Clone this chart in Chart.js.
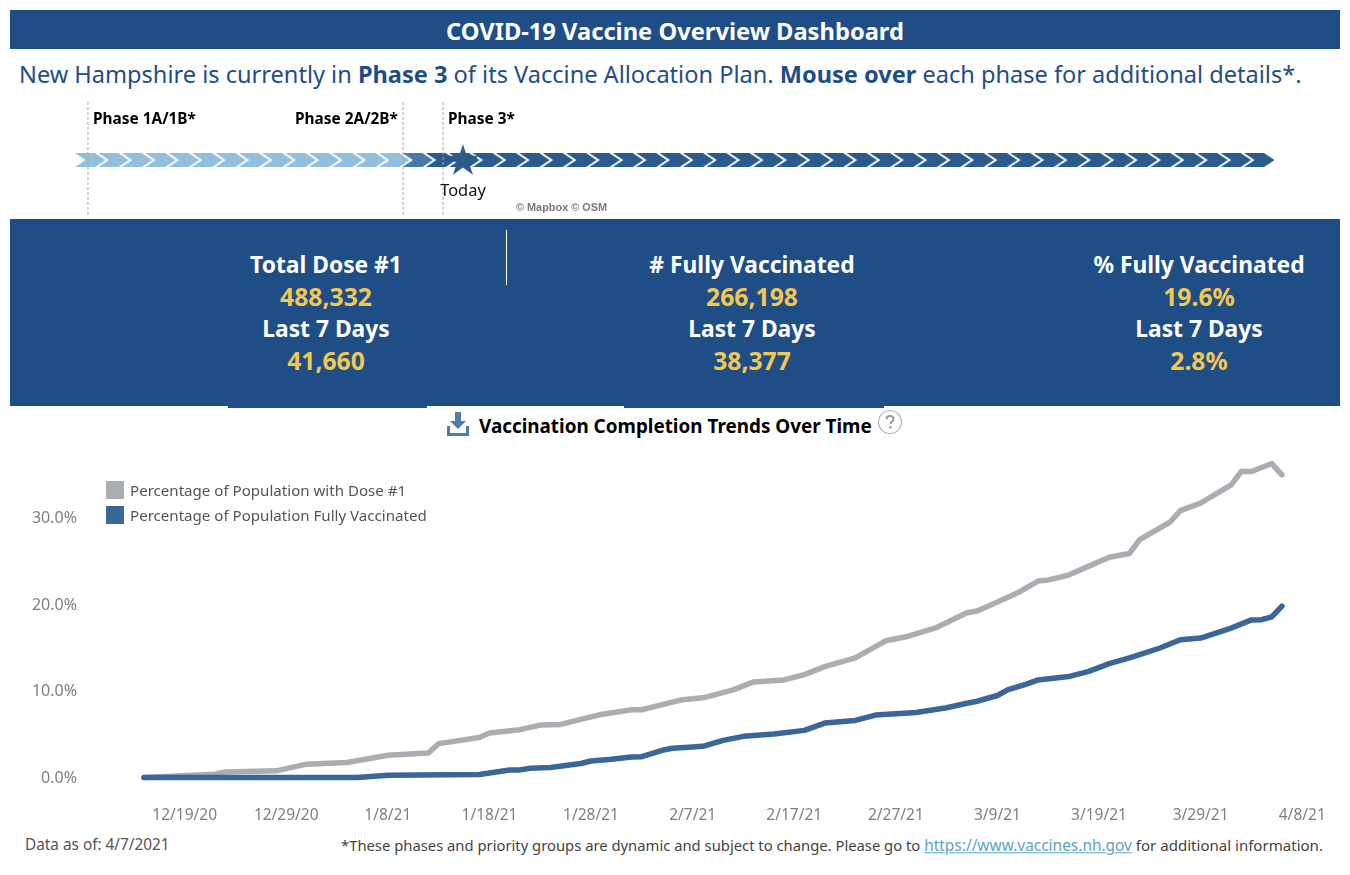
<!DOCTYPE html>
<html><head><meta charset="utf-8">
<script src="https://cdn.jsdelivr.net/npm/chart.js@4"></script>
<style>
html,body{margin:0;padding:0;background:#fff;width:1350px;height:875px;overflow:hidden;font-family:"Noto Sans",sans-serif}
.t{position:absolute;white-space:nowrap;line-height:1;transform:translateY(-50%)}
.c{transform:translate(-50%,-50%)}
.b{font-weight:700}
.box{position:absolute;background:#1f4e87}
canvas{position:absolute}
</style></head><body>
<div class="box" style="left:10px;top:10px;width:1330px;height:39px"></div>
<div class="t c b" style="left:675px;top:32px;color:#fff;font-size:23.7px">COVID-19 Vaccine Overview Dashboard</div>
<div class="t" style="left:19px;top:75px;color:#1f4e87;font-size:23.57px">New Hampshire is currently in <b>Phase 3</b> of its Vaccine Allocation Plan. <b>Mouse over</b> each phase for additional details*.</div>

<canvas id="timeline" width="1350" height="115" style="left:0;top:100px"></canvas>
<div class="t b" style="left:93px;top:119px;font-size:15.4px;color:#000">Phase 1A/1B*</div>
<div class="t b" style="left:295px;top:119px;font-size:15.4px;color:#000">Phase 2A/2B*</div>
<div class="t b" style="left:448px;top:119px;font-size:15.4px;color:#000">Phase 3*</div>
<div class="t c" style="left:463px;top:190px;font-size:16.4px;color:#111">Today</div>
<div class="t b" style="left:516px;top:207px;font-size:10.9px;color:#7a7a7a;font-family:'Liberation Sans'">© Mapbox © OSM</div>

<div class="box" style="left:10px;top:219px;width:1330px;height:187px"></div>
<div class="box" style="left:228px;top:400px;width:199px;height:8px"></div>
<div class="box" style="left:624px;top:400px;width:260px;height:8px"></div>
<div style="position:absolute;left:506px;top:230px;width:1px;height:55px;background:#fff"></div>
<div id="kpis"></div>

<svg style="position:absolute;left:446px;top:412px" width="24" height="25" viewBox="0 0 24 25"><path d="M9 0h6v9h5l-8 8-8-8h5z" fill="#4f7cac"/><path d="M1 14v10h22V14h-3v7H4v-7z" fill="#4f7cac"/></svg>
<div class="t b" style="left:479px;top:426px;font-size:18.86px;color:#000">Vaccination Completion Trends Over Time</div>
<svg style="position:absolute;left:877px;top:409px" width="26" height="26" viewBox="0 0 26 26"><circle cx="13" cy="13" r="11.5" fill="#fff" stroke="#b5b5b5" stroke-width="1.2"/><path d="M9.5 10.2c0-2 1.5-3.2 3.5-3.2s3.5 1.2 3.5 3c0 2.6-3 2.6-3 5.2" fill="none" stroke="#9a9a9a" stroke-width="2"/><circle cx="13.4" cy="18.3" r="1.3" fill="#9a9a9a"/></svg>

<canvas id="trend" width="1350" height="400" style="left:0;top:430px"></canvas>
<div id="legend"></div>

<div class="t" style="left:25px;top:845px;font-size:15.35px;color:#555">Data as of: 4/7/2021</div>
<div class="t" style="left:341px;top:846px;font-size:14.8px;color:#444">*These phases and priority groups are dynamic and subject to change. Please go to <span style="color:#5da3c9;text-decoration:underline;font-size:15.45px">https://www.vaccines.nh.gov</span> <span style="font-size:15.05px">for additional information.</span></div>

<script>
// ---- trend data, day 0 = 12/15/20 ----
const dose1Days = [0,7,8,13,16,20,24,27,28,29,33,34,37,39,41,45,48,49,52,53,55,58,60,63,65,67,70,73,75,78,81,82,84,86,88,89,91,93,95,97,98,101,102,104,107,108,109,111,112];
const dose1Pct  = [0,0.38,0.64,0.76,1.53,1.72,2.56,2.76,2.83,3.9,4.6,5.12,5.51,6.04,6.12,7.27,7.81,7.81,8.68,8.96,9.18,10.1,11.02,11.25,11.86,12.78,13.78,15.76,16.22,17.29,19.0,19.2,20.24,21.3,22.65,22.77,23.34,24.37,25.4,25.83,27.44,29.46,30.77,31.64,33.75,35.28,35.28,36.2,34.9];
const fullDays  = [0,21,24,33,36,37,38,40,43,44,46,48,49,51,52,54,55,57,59,62,65,67,70,72,74,76,79,81,82,84,85,87,88,91,93,95,97,100,102,104,107,109,110,111,112];
const fullPct   = [0,0,0.26,0.34,0.87,0.87,1.07,1.15,1.61,1.9,2.1,2.37,2.4,3.13,3.36,3.51,3.59,4.28,4.74,5.0,5.43,6.27,6.58,7.19,7.35,7.5,8.04,8.56,8.79,9.45,10.1,10.83,11.25,11.63,12.24,13.12,13.78,14.93,15.88,16.07,17.22,18.17,18.2,18.52,19.75];
const xTickDays = [4,14,24,34,44,54,64,74,84,94,104,114];
const xTickLabels = ["12/19/20","12/29/20","1/8/21","1/18/21","1/28/21","2/7/21","2/17/21","2/27/21","3/9/21","3/19/21","3/29/21","4/8/21"];
const yTicks = [0,10,20,30];
const seriesNames = ["Percentage of Population with Dose #1","Percentage of Population Fully Vaccinated"];
const seriesColors = ["#aaadb2","#3a6698"];

// ---- timeline data ----
const lightChevrons = [0,1,2,3,4,5,6,7,8,9,10,11,12,13];
const midChevrons = [14];
const darkChevrons = [15,16,17,18,19,20,21,22,23,24,25,26,27,28,29,30,31,32,33,34,35,36,37,38,39,40,41,42,43,44,45,46,47,48,49,50];
const phaseStarts = [-0.107,13.37,15.08];
const todayPos = [15.93];

// ---- KPI text ----
const kpiTitles = ["Total Dose #1","# Fully Vaccinated","% Fully Vaccinated"];
const kpiTotals = ["488,332","266,198","19.6%"];
const kpiWeek = ["41,660","38,377","2.8%"];

// KPI blocks
const kpiCenters=[326,752,1199];
let h='';
kpiTitles.forEach((t,i)=>{const l=kpiCenters[i];
 h+=`<div class="t c b" style="left:${l}px;top:265px;font-size:22.8px;color:#fff">${t}</div>`;
 h+=`<div class="t c b" style="left:${l}px;top:296.5px;font-size:24.7px;color:#f2c852">${kpiTotals[i]}</div>`;
 h+=`<div class="t c b" style="left:${l}px;top:329px;font-size:22.8px;color:#fff">Last 7 Days</div>`;
 h+=`<div class="t c b" style="left:${l}px;top:360.5px;font-size:24.7px;color:#f2c852">${kpiWeek[i]}</div>`;
});
document.getElementById('kpis').innerHTML=h;

// Legend
let lg='';
seriesNames.forEach((n,i)=>{const y=[490,515][i];
 lg+=`<div style="position:absolute;left:106px;top:${y-9}px;width:18px;height:18px;background:${seriesColors[i]}"></div>`;
 lg+=`<div class="t" style="left:130px;top:${y+1}px;font-size:15.1px;color:#555">${n}</div>`;});
document.getElementById('legend').innerHTML=lg;

// chevron / star point images
function chevron(col){const c=document.createElement('canvas');c.width=31;c.height=14;const g=c.getContext('2d');
 g.fillStyle=col;g.beginPath();g.moveTo(0,0);g.lineTo(20,0);g.lineTo(30.5,7);g.lineTo(20,14);g.lineTo(0,14);g.lineTo(10.5,7);g.closePath();g.fill();return c;}
function star(col){const c=document.createElement('canvas');c.width=32;c.height=32;const g=c.getContext('2d');
 g.fillStyle=col;g.beginPath();for(let i=0;i<10;i++){const r=i%2?6.4:17,a=-Math.PI/2+i*Math.PI/5;g[i?'lineTo':'moveTo'](16+r*Math.cos(a),17+r*Math.sin(a));}g.closePath();g.fill();return c;}

const dash=phaseStarts.map(x=>({type:'line',data:[{x,y:0},{x,y:1}],borderColor:'#a8a8a8',borderWidth:1,borderDash:[3,2],pointRadius:0,order:1}));
const chev=(arr,col)=>({type:'scatter',data:arr.map(x=>({x,y:0.478})),pointStyle:chevron(col),pointRadius:10,order:3});

new Chart(document.getElementById('timeline'),{
 data:{datasets:[chev(lightChevrons,'#93bfdf'),chev(midChevrons,'#4a78a8'),chev(darkChevrons,'#2a5b8c'),...dash,
  {type:'scatter',data:todayPos.map(x=>({x,y:0.478})),pointStyle:star('#2a5b8c'),pointRadius:16,order:0}]},
 options:{responsive:false,animation:false,devicePixelRatio:1,events:[],layout:{padding:0,autoPadding:false},
  plugins:{legend:{display:false},tooltip:{enabled:false}},
  scales:{x:{type:'linear',display:false,min:-3.87,max:53.87},y:{display:false,min:0,max:1}}}
});

// Trend chart
const toXY=(d,v)=>d.map((x,i)=>({x,y:v[i]}));
new Chart(document.getElementById('trend'),{
 type:'line',
 data:{datasets:[
  {label:seriesNames[0],data:toXY(dose1Days,dose1Pct),borderColor:seriesColors[0],borderWidth:5.5,pointRadius:0,tension:0,borderJoinStyle:'round',borderCapStyle:'round',order:2},
  {label:seriesNames[1],data:toXY(fullDays,fullPct),borderColor:seriesColors[1],borderWidth:5.5,pointRadius:0,tension:0,borderJoinStyle:'round',borderCapStyle:'round',order:1}]},
 options:{responsive:false,animation:false,devicePixelRatio:1,events:[],layout:{padding:0},
  plugins:{legend:{display:false},tooltip:{enabled:false}},
  scales:{
   x:{type:'linear',min:-5.807,max:118.7,grid:{display:false,drawTicks:false},border:{display:false},
     afterBuildTicks(s){s.ticks=xTickDays.map(value=>({value}));},
     ticks:{autoSkip:false,maxRotation:0,padding:6,labelOffset:0,color:'#7f7f7f',font:{family:'Noto Sans',size:15.5},
       callback:(v)=>xTickLabels[xTickDays.indexOf(v)]},
     afterFit(s){s.height=30;}},
   y:{type:'linear',min:-2.6,max:38.04,grid:{display:false,drawTicks:false},border:{display:false},
     afterBuildTicks(s){s.ticks=yTicks.map(value=>({value}));},
     afterFit(s){s.width=85;},
     ticks:{padding:8,labelOffset:1,color:'#7f7f7f',font:{family:'Noto Sans',size:16},callback:v=>v.toFixed(1)+'%'}}
  }}
});
</script>
</body></html>
